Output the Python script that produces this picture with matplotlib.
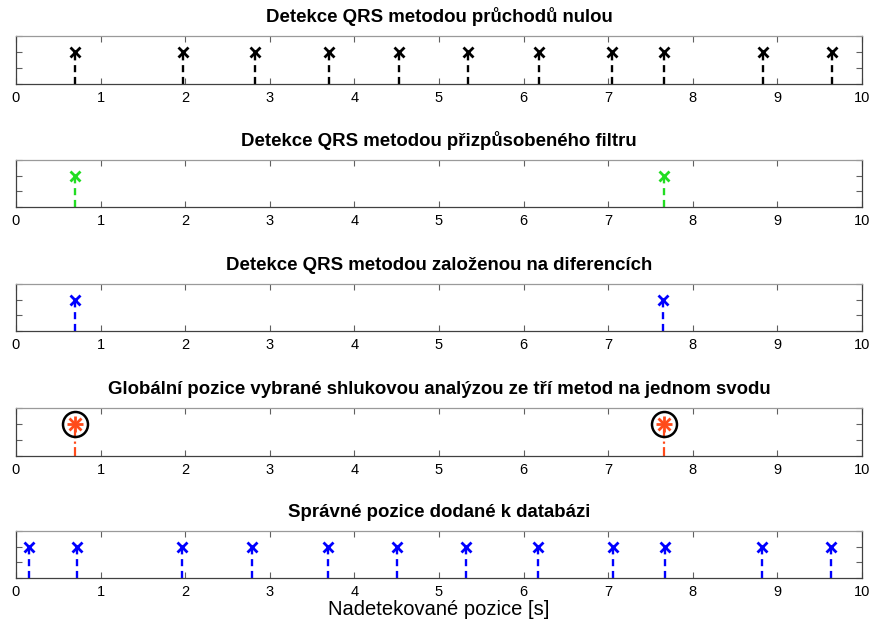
import numpy as np
import matplotlib.pyplot as plt

plt.rcParams['font.family'] = ['Liberation Sans', 'DejaVu Sans']

# QRS positions [s] detected by each method
zero_cross = [0.70, 1.97, 2.83, 3.70, 4.53, 5.34, 6.18, 7.04, 7.66, 8.83, 9.65]
matched_filt = [0.70, 7.66]
diff_based = [0.70, 7.65]
cluster_global = [0.70, 7.66]
reference = [0.15, 0.72, 1.96, 2.79, 3.69, 4.50, 5.32, 6.17, 7.06, 7.67, 8.82, 9.63]

titles = [
    'Detekce QRS metodou průchodů nulou',
    'Detekce QRS metodou přizpůsobeného filtru',
    'Detekce QRS metodou založenou na diferencích',
    'Globální pozice vybrané shlukovou analýzou ze tří metod na jednom svodu',
    'Správné pozice dodané k databázi',
]

W, H = 874, 626
fig = plt.figure(figsize=(W / 100, H / 100), dpi=100)

# top/bottom edge of each axes in pixels
rows = [(36, 84), (160, 207), (284, 331), (408, 456), (531, 578)]
left, right = 16, 862


def make_ax(top, bottom, title):
    ax = fig.add_axes([left / W, 1 - bottom / H, (right - left) / W, (bottom - top) / H])
    ax.set_xlim(0, 10)
    ax.set_ylim(0, 1.5)
    ax.set_xticks(np.arange(0, 11, 1))
    ax.set_yticks([0, 0.5, 1, 1.5])
    ax.set_yticklabels([])
    ax.tick_params(direction='in', length=4, width=0.8, color='#606060',
                   top=True, right=True, labelsize=10.5, pad=5, labelcolor='black')
    for s in ax.spines.values():
        s.set_color('#404040')
        s.set_linewidth(0.9)
    ax.spines['top'].set_color('#9a9a9a')
    ax.set_title(title, fontsize=13.4, fontweight='bold', pad=10)
    return ax


def stems(ax, xs, color, ls, marker, ms, mew):
    xs = np.asarray(xs)
    ax.vlines(xs, 0, 1, colors=color, linestyles=ls, linewidth=1.7)
    ax.plot(xs, np.ones_like(xs), linestyle='none', marker=marker, color=color,
            markersize=ms, markeredgewidth=mew)


axes = [make_ax(t, b, ttl) for (t, b), ttl in zip(rows, titles)]

stems(axes[0], zero_cross, 'black', (0, (3, 2)), 'x', 7, 2)
stems(axes[1], matched_filt, '#22dd22', (0, (3, 2)), 'x', 7, 2)
stems(axes[2], diff_based, '#0000ff', (0, (3, 2)), 'x', 7, 2)

# global positions: asterisk inside a black circle, dash-dot stem
ax4 = axes[3]
cg = np.asarray(cluster_global)
ax4.vlines(cg, 0, 1, colors='#ff4a1a', linestyles=(0, (4, 1.5, 1, 1.5)), linewidth=1.6)
ax4.plot(cg, np.ones_like(cg), linestyle='none', marker='+', color='#ff4a1a',
         markersize=11, markeredgewidth=2)
ax4.plot(cg, np.ones_like(cg), linestyle='none', marker='x', color='#ff4a1a',
         markersize=8, markeredgewidth=2)
ax4.plot(cg, np.ones_like(cg), linestyle='none', marker='o', markerfacecolor='none',
         markeredgecolor='black', markersize=18, markeredgewidth=1.8)

stems(axes[4], reference, '#0000ff', (0, (3, 2)), 'x', 7, 2)
axes[4].set_xlabel('Nadetekované pozice [s]', fontsize=14.5, labelpad=1)

fig.savefig('out.png', dpi=100)
